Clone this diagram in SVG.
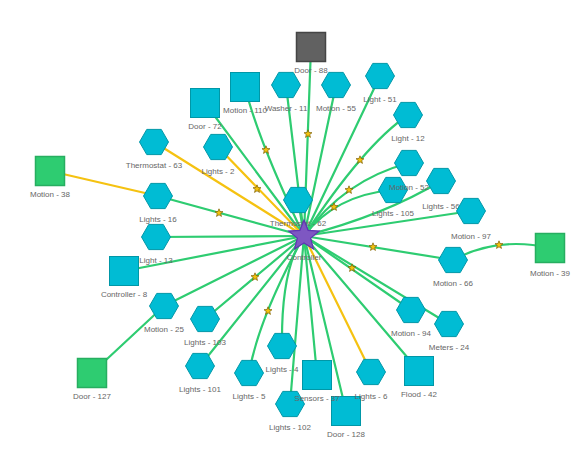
<svg xmlns="http://www.w3.org/2000/svg" xmlns:xlink="http://www.w3.org/1999/xlink" width="583" height="450" viewBox="0 0 583 450">
<style>
.e{fill:none;stroke:#2ecc71;stroke-width:2.2;stroke-linecap:round}
.y{fill:none;stroke:#f5c211;stroke-width:2.2;stroke-linecap:round}
.hx{fill:#00bcd4;stroke:#0097a7;stroke-width:1}
.sq{fill:#00bcd4;stroke:#0097a7;stroke-width:1}
.gr{fill:#2ecc71;stroke:#27ae60;stroke-width:1.5}
.dk{fill:#616161;stroke:#454545;stroke-width:1.5}
.mk{fill:#f4c20d;stroke:#7a5c00;stroke-width:0.7}
.st{fill:#7e57c2;stroke:#5e35b1;stroke-width:1.2}
text{font-family:"Liberation Sans",Arial,sans-serif;font-size:8px;fill:#666;text-anchor:middle}
</style>
<defs>
<polygon id="hex" points="-14.5,0 -7.25,-12.6 7.25,-12.6 14.5,0 7.25,12.6 -7.25,12.6"/>
<path id="ms" d="M0,-4.2 L1.06,-1.46 L3.99,-1.3 L1.71,0.56 L2.47,3.4 L0,1.8 L-2.47,3.4 L-1.71,0.56 L-3.99,-1.3 L-1.06,-1.46 Z"/>
</defs>
<rect width="583" height="450" fill="#fff"/>
<g id="connectors">
<path class="e" d="M311,47 L304,236"/>
<path class="e" d="M245,87 Q258,140 304,236"/>
<path class="e" d="M205,103 L304,236"/>
<path class="e" d="M286,85 L304,236"/>
<path class="e" d="M336,85 L304,236"/>
<path class="e" d="M380,76 L304,236"/>
<path class="e" d="M408,115 Q364,145 304,236"/>
<path class="e" d="M409,163 Q344,180 304,236"/>
<path class="e" d="M393,190 Q335,195 304,236"/>
<path class="e" d="M441,181 Q385,215 304,236"/>
<path class="e" d="M471,211 L304,236"/>
<path class="e" d="M453,260 L304,236"/>
<path class="e" d="M453,260 Q498,236 550,248"/>
<path class="e" d="M411,310 L304,236"/>
<path class="e" d="M449,324 L304,236"/>
<path class="e" d="M419,371 L304,236"/>
<path class="y" d="M371,372 L304,236"/>
<path class="e" d="M346,411 L304,236"/>
<path class="e" d="M317,375 L304,236"/>
<path class="e" d="M290,404 L304,236"/>
<path class="e" d="M282,346 Q281,268 304,236"/>
<path class="e" d="M249,373 Q259,317 304,236"/>
<path class="e" d="M200,366 L304,236"/>
<path class="e" d="M205,319 L304,236"/>
<path class="e" d="M164,306 L304,236"/>
<path class="e" d="M164,306 L92,373"/>
<path class="e" d="M124,271 L304,236"/>
<path class="e" d="M156,237 L304,236"/>
<path class="e" d="M158,196 L304,236"/>
<path class="y" d="M50,171 L158,196"/>
<path class="y" d="M154,142 L304,236"/>
<path class="y" d="M218,147 L304,236"/>
<path class="e" d="M298,200 L304,236"/>
<use class="mk" xlink:href="#ms" x="308" y="134"/>
<use class="mk" xlink:href="#ms" x="266" y="150"/>
<use class="mk" xlink:href="#ms" x="257" y="189"/>
<use class="mk" xlink:href="#ms" x="219" y="213"/>
<use class="mk" xlink:href="#ms" x="360" y="160"/>
<use class="mk" xlink:href="#ms" x="349" y="190"/>
<use class="mk" xlink:href="#ms" x="334" y="207"/>
<use class="mk" xlink:href="#ms" x="373" y="247"/>
<use class="mk" xlink:href="#ms" x="352" y="268"/>
<use class="mk" xlink:href="#ms" x="499" y="245"/>
<use class="mk" xlink:href="#ms" x="255" y="277"/>
<use class="mk" xlink:href="#ms" x="268" y="311"/>
</g>
<g id="door-88"><rect class="dk" x="296.5" y="32.5" width="29" height="29"/><text x="311" y="73">Door - 88</text></g>
<g id="motion-110"><rect class="sq" x="230.5" y="72.5" width="29" height="29"/><text x="245" y="113">Motion - 110</text></g>
<g id="door-72"><rect class="sq" x="190.5" y="88.5" width="29" height="29"/><text x="205" y="129">Door - 72</text></g>
<g id="washer-11"><use class="hx" xlink:href="#hex" x="286" y="85"/><text x="286" y="111">Washer - 11</text></g>
<g id="motion-55"><use class="hx" xlink:href="#hex" x="336" y="85"/><text x="336" y="111">Motion - 55</text></g>
<g id="light-51"><use class="hx" xlink:href="#hex" x="380" y="76"/><text x="380" y="102">Light - 51</text></g>
<g id="light-12"><use class="hx" xlink:href="#hex" x="408" y="115"/><text x="408" y="141">Light - 12</text></g>
<g id="thermostat-63"><use class="hx" xlink:href="#hex" x="154" y="142"/><text x="154" y="168">Thermostat - 63</text></g>
<g id="lights-2"><use class="hx" xlink:href="#hex" x="218" y="147"/><text x="218" y="174">Lights - 2</text></g>
<g id="lights-16"><use class="hx" xlink:href="#hex" x="158" y="196"/><text x="158" y="222">Lights - 16</text></g>
<g id="light-13"><use class="hx" xlink:href="#hex" x="156" y="237"/><text x="156" y="263">Light - 13</text></g>
<g id="motion-38"><rect class="gr" x="35.5" y="156.5" width="29" height="29"/><text x="50" y="197">Motion - 38</text></g>
<g id="controller-8"><rect class="sq" x="109.5" y="256.5" width="29" height="29"/><text x="124" y="297">Controller - 8</text></g>
<g id="motion-25"><use class="hx" xlink:href="#hex" x="164" y="306"/><text x="164" y="332">Motion - 25</text></g>
<g id="door-127"><rect class="gr" x="77.5" y="358.5" width="29" height="29"/><text x="92" y="399">Door - 127</text></g>
<g id="lights-103"><use class="hx" xlink:href="#hex" x="205" y="319"/><text x="205" y="345">Lights - 103</text></g>
<g id="lights-101"><use class="hx" xlink:href="#hex" x="200" y="366"/><text x="200" y="392">Lights - 101</text></g>
<g id="lights-5"><use class="hx" xlink:href="#hex" x="249" y="373"/><text x="249" y="399">Lights - 5</text></g>
<g id="lights-4"><use class="hx" xlink:href="#hex" x="282" y="346"/><text x="282" y="372">Lights - 4</text></g>
<g id="lights-102"><use class="hx" xlink:href="#hex" x="290" y="404"/><text x="290" y="430">Lights - 102</text></g>
<g id="door-128"><rect class="sq" x="331.5" y="396.5" width="29" height="29"/><text x="346" y="437">Door - 128</text></g>
<g id="sensors-37"><rect class="sq" x="302.5" y="360.5" width="29" height="29"/><text x="317" y="401">Sensors - 37</text></g>
<g id="lights-6"><use class="hx" xlink:href="#hex" x="371" y="372"/><text x="371" y="399">Lights - 6</text></g>
<g id="flood-42"><rect class="sq" x="404.5" y="356.5" width="29" height="29"/><text x="419" y="397">Flood - 42</text></g>
<g id="motion-94"><use class="hx" xlink:href="#hex" x="411" y="310"/><text x="411" y="336">Motion - 94</text></g>
<g id="meters-24"><use class="hx" xlink:href="#hex" x="449" y="324"/><text x="449" y="350">Meters - 24</text></g>
<g id="motion-66"><use class="hx" xlink:href="#hex" x="453" y="260"/><text x="453" y="286">Motion - 66</text></g>
<g id="motion-39"><rect class="gr" x="535.5" y="233.5" width="29" height="29"/><text x="550" y="276">Motion - 39</text></g>
<g id="lights-56"><use class="hx" xlink:href="#hex" x="441" y="181"/><text x="441" y="209">Lights - 56</text></g>
<g id="motion-97"><use class="hx" xlink:href="#hex" x="471" y="211"/><text x="471" y="239">Motion - 97</text></g>
<g id="lights-105"><use class="hx" xlink:href="#hex" x="393" y="190"/><text x="393" y="216">Lights - 105</text></g>
<g id="motion-52"><use class="hx" xlink:href="#hex" x="409" y="163"/><text x="409" y="190">Motion - 52</text></g>
<g id="thermostat-62"><use class="hx" xlink:href="#hex" x="298" y="200"/><text x="298" y="226">Thermostat - 62</text></g>
<g id="controller"><path class="st" d="M304,220 L308.11,230.34 L319.22,231.06 L310.66,238.16 L313.4,248.94 L304,243 L294.6,248.94 L297.34,238.16 L288.78,231.06 L299.89,230.34 Z"/><text x="304" y="260">Controller</text></g>
</svg>
